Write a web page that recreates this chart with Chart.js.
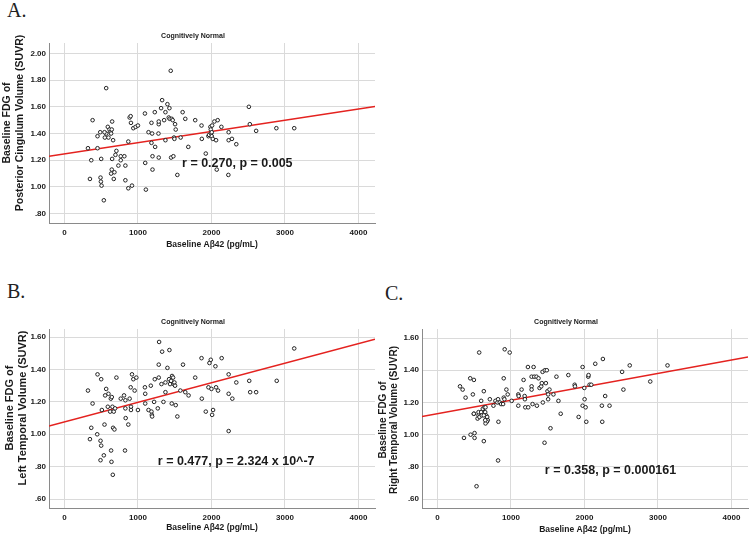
<!DOCTYPE html>
<html>
<head>
<meta charset="utf-8">
<script src="https://cdn.jsdelivr.net/npm/chart.js@4"></script>
<style>
    body { margin: 0; background: #fff; width: 753px; height: 536px; position: relative; overflow: hidden; }
    canvas { position: absolute; }
    .letter { position: absolute; font-family: "Liberation Serif", "Times New Roman", serif; font-size: 20px; line-height: 20px; color: #222; }
</style>
</head>
<body>
<div class="letter" style="left:7px;top:0px">A.</div>
<div class="letter" style="left:7px;top:281px">B.</div>
<div class="letter" style="left:385px;top:283px">C.</div>
<canvas id="chartA" width="380" height="255" style="left:0;top:0"></canvas>
<canvas id="chartB" width="380" height="256" style="left:0;top:280px"></canvas>
<canvas id="chartC" width="380" height="256" style="left:373px;top:280px"></canvas>
<script>
// Tick labels
const xTicks = [0, 1000, 2000, 3000, 4000];
const yTicksA = [0.8, 1.0, 1.2, 1.4, 1.6, 1.8, 2.0];
const yTicksBC = [0.6, 0.8, 1.0, 1.2, 1.4, 1.6];

// Panel A: Posterior Cingulum
const abetaA = [320, 347, 365, 383, 450, 450, 487, 500, 491, 496, 505, 536, 550, 568, 568, 590, 599, 613, 626, 635,
    644, 649, 635, 644, 649, 662, 671, 680, 694, 707, 734, 766, 766, 815, 829, 829, 869, 869, 887, 901,
    905, 919, 937, 968, 1000, 1095, 1099, 1108, 1144, 1184, 1184, 1193, 1198, 1198, 1229, 1234, 1279, 1283, 1283, 1283,
    1315, 1329, 1356, 1374, 1374, 1401, 1419, 1428, 1432, 1446, 1451, 1460, 1473, 1482, 1491, 1505, 1496, 1514, 1536, 1581,
    1608, 1644, 1685, 1779, 1865, 1869, 1923, 1959, 1968, 1986, 1991, 1995, 2004, 2004, 2009, 2018, 2040, 2063, 2072, 2085,
    2135, 2230, 2234, 2234, 2279, 2338, 2509, 2522, 2608, 2883, 3126, 545];
const fdgA = [1.29, 1.06, 1.20, 1.50, 1.38, 1.29, 1.41, 1.21, 1.07, 1.04, 1.01, 0.90, 1.37, 1.74, 1.40, 1.45, 1.37, 1.43, 1.41, 1.40,
    1.43, 1.49, 1.10, 1.13, 1.21, 1.35, 1.06, 1.11, 1.24, 1.27, 1.16, 1.23, 1.20, 1.23, 1.16, 1.05, 0.99, 1.34, 1.52, 1.53,
    1.48, 1.01, 1.44, 1.45, 1.46, 1.55, 1.18, 0.98, 1.41, 1.48, 1.33, 1.40, 1.23, 1.13, 1.56, 1.30, 1.40, 1.47, 1.49, 1.22,
    1.59, 1.65, 1.50, 1.56, 1.35, 1.62, 1.52, 1.59, 1.51, 1.87, 1.22, 1.51, 1.50, 1.23, 1.37, 1.47, 1.36, 1.43, 1.09, 1.37,
    1.56, 1.51, 1.30, 1.50, 1.46, 1.36, 1.25, 1.38, 1.39, 1.45, 1.43, 1.40, 1.41, 1.38, 1.46, 1.36, 1.49, 1.35, 1.13, 1.50,
    1.45, 1.09, 1.41, 1.35, 1.36, 1.32, 1.60, 1.47, 1.42, 1.44, 1.44, 1.41];
const fitA = [1.247, 0.000084];

// Panel B: Left Temporal
const abetaB = [320, 347, 365, 383, 450, 446, 491, 491, 500, 500, 509, 536, 545, 568, 554, 590, 599, 622, 631, 635,
    640, 644, 653, 658, 662, 671, 680, 689, 707, 766, 811, 829, 829, 833, 824, 869, 887, 901, 905, 919,
    905, 937, 955, 978, 1000, 1095, 1099, 1099, 1144, 1175, 1184, 1189, 1193, 1220, 1229, 1270, 1283, 1283, 1288, 1320,
    1329, 1347, 1374, 1374, 1401, 1423, 1428, 1437, 1451, 1460, 1464, 1478, 1487, 1496, 1505, 1514, 1536, 1577, 1613, 1644,
    1689, 1779, 1865, 1869, 1923, 1959, 1973, 1991, 2000, 2009, 2022, 2054, 2063, 2090, 2139, 2234, 2234, 2234, 2284, 2338,
    2514, 2527, 2608, 2888, 3126];
const fdgB = [1.27, 0.97, 1.04, 1.19, 1.37, 1.00, 0.96, 0.84, 0.93, 1.34, 1.15, 0.87, 1.06, 1.28, 1.24, 1.17, 1.25, 1.14, 1.22, 0.90,
    0.83, 1.23, 1.17, 0.75, 1.04, 1.14, 1.03, 1.16, 1.35, 1.22, 1.24, 1.21, 1.16, 1.10, 0.90, 1.06, 1.22, 1.29, 1.17, 1.37,
    1.15, 1.34, 1.27, 1.35, 1.15, 1.29, 1.25, 1.19, 1.15, 1.30, 1.14, 1.12, 1.11, 1.20, 1.34, 1.16, 1.35, 1.43, 1.57, 1.31,
    1.51, 1.20, 1.32, 1.26, 1.41, 1.34, 1.52, 1.31, 1.33, 1.19, 1.36, 1.35, 1.31, 1.32, 1.30, 1.18, 1.11, 1.27, 1.43, 1.26,
    1.24, 1.35, 1.47, 1.22, 1.14, 1.29, 1.44, 1.46, 1.28, 1.12, 1.15, 1.42, 1.29, 1.27, 1.47, 1.37, 1.25, 1.02, 1.22, 1.32,
    1.33, 1.26, 1.26, 1.33, 1.53];
const fitB = [1.077, 0.0001206];

// Panel C: Right Temporal
const abetaC = [307, 343, 361, 383, 446, 451, 482, 496, 496, 505, 505, 532, 546, 559, 568, 595, 631, 631, 713, 762,
    789, 816, 825, 830, 825, 848, 866, 893, 902, 902, 911, 915, 938, 956, 983, 1010, 1100, 1100, 1105, 1145,
    1172, 1186, 1190, 1195, 1231, 1235, 1281, 1281, 1281, 1294, 1308, 1317, 1348, 1353, 1375, 1389, 1412, 1420, 1430, 1434,
    1457, 1461, 1475, 1488, 1497, 1506, 1506, 1524, 1538, 1578, 1619, 1646, 1677, 1781, 1867, 1871, 1921, 1975, 1975, 1998,
    2002, 2016, 2025, 2052, 2056, 2070, 2093, 2147, 2237, 2242, 2251, 2282, 2341, 2512, 2530, 2616, 2895, 3130,
    495, 559, 595, 617, 640, 654, 650, 663, 677, 685, 672, 654, 572, 604, 631, 650];
const fdgC = [1.30, 1.28, 0.98, 1.23, 1.35, 1.00, 1.25, 1.34, 1.13, 1.01, 0.98, 0.68, 1.10, 1.12, 1.51, 1.21, 1.27, 0.96, 1.22, 1.18,
    1.21, 1.20, 1.22, 1.08, 0.84, 1.20, 1.19, 1.19, 1.23, 1.35, 1.22, 1.53, 1.28, 1.25, 1.51, 1.21, 1.25, 1.18, 1.24, 1.28,
    1.34, 1.24, 1.22, 1.17, 1.42, 1.17, 1.36, 1.30, 1.28, 1.19, 1.42, 1.36, 1.36, 1.18, 1.35, 1.29, 1.30, 1.32, 1.39, 1.20,
    0.95, 1.40, 1.32, 1.40, 1.27, 1.25, 1.22, 1.28, 1.04, 1.25, 1.36, 1.21, 1.13, 1.37, 1.31, 1.30, 1.11, 1.42, 1.18, 1.29,
    1.22, 1.17, 1.08, 1.36, 1.37, 1.31, 1.31, 1.44, 1.18, 1.08, 1.47, 1.24, 1.18, 1.39, 1.28, 1.43, 1.33, 1.43,
    1.13, 1.14, 1.14, 1.16, 1.17, 1.17, 1.14, 1.12, 1.11, 1.09, 1.08, 1.07, 1.11, 1.12, 1.12, 1.09];
const fitC = [1.131, 0.0000833];

const xMin = -210, xMax = 4225;
const FONT = "'Liberation Sans', Arial, sans-serif";

// draws subtitle, axis titles and the r/p note
const panelText = {
    id: "panelText",
    afterDraw(chart) {
        const o = chart.options.plugins.panelText;
        const ctx = chart.ctx;
        const area = chart.chartArea;
        ctx.save();
        ctx.fillStyle = "#1a1a1a";
        ctx.textBaseline = "middle";
        ctx.textAlign = "center";

        ctx.font = "bold 7px " + FONT;
        ctx.fillText("Cognitively Normal", (area.left + area.right) / 2 - 19, o.titleY);

        ctx.font = "bold 8.5px " + FONT;
        ctx.fillText("Baseline A\u03b242 (pg/mL)", (area.left + area.right) / 2, o.xTitleY);

        ctx.save();
        ctx.font = "bold " + o.yTitleSize + "px " + FONT;
        ctx.translate(0, o.yTitleCenter);
        ctx.rotate(-Math.PI / 2);
        ctx.fillText("Baseline FDG of", 0, o.yTitleX[0]);
        ctx.fillText(o.yTitle, 0, o.yTitleX[1]);
        ctx.restore();

        ctx.font = "bold 12.5px " + FONT;
        ctx.textAlign = "left";
        ctx.fillText(o.note, chart.scales.x.getPixelForValue(o.noteAt[0]), chart.scales.y.getPixelForValue(o.noteAt[1]));
        ctx.restore();
    }
};

function makeChart(id, xs, ys, fit, yTicks, yRange, top, text) {
    const points = xs.map((x, i) => ({ x: x, y: ys[i] }));
    const line = [xMin, xMax].map(x => ({ x: x, y: fit[0] + fit[1] * x }));
    return new Chart(document.getElementById(id), {
        type: "scatter",
        data: {
            datasets: [
                {
                    data: points,
                    pointRadius: 1.8,
                    pointBorderWidth: 1,
                    pointBorderColor: "#222",
                    pointBackgroundColor: "#fff",
                },
                {
                    type: "line",
                    data: line,
                    borderColor: "#e4221f",
                    borderWidth: 1.5,
                    pointRadius: 0,
                },
            ],
        },
        options: {
            responsive: false,
            animation: false,
            devicePixelRatio: 1,
            layout: { padding: { top: top, right: 3, left: 0, bottom: 0 } },
            plugins: {
                legend: { display: false },
                tooltip: { enabled: false },
                panelText: text,
            },
            scales: {
                x: {
                    type: "linear",
                    min: xMin,
                    max: xMax,
                    afterBuildTicks: s => { s.ticks = xTicks.map(v => ({ value: v })); },
                    afterFit: s => { s.height = text.xAxisH; },
                    grid: { color: "#dadada", drawTicks: false },
                    border: { color: "#8a8a8a", width: 1 },
                    ticks: {
                        padding: 5,
                        color: "#1a1a1a",
                        font: { family: FONT, size: 8, weight: "bold" },
                        maxRotation: 0,
                        callback: v => String(v),
                    },
                },
                y: {
                    type: "linear",
                    min: yRange[0],
                    max: yRange[1],
                    afterBuildTicks: s => { s.ticks = yTicks.map(v => ({ value: v })); },
                    afterFit: s => { s.width = 49; },
                    grid: { color: "#dadada", drawTicks: false },
                    border: { color: "#8a8a8a", width: 1 },
                    ticks: {
                        padding: 3,
                        color: "#1a1a1a",
                        font: { family: FONT, size: 8, weight: "bold" },
                        callback: v => v.toFixed(2).replace(/^0/, ""),
                    },
                },
            },
        },
        plugins: [panelText],
    });
}

makeChart("chartA", abetaA, fdgA, fitA, yTicksA, [0.73, 2.078], 43, {
    titleY: 36, xTitleY: 245, xAxisH: 32,
    yTitle: "Posterior Cingulum Volume (SUVR)", yTitleSize: 10.5, yTitleX: [7, 20], yTitleCenter: 123,
    note: "r = 0.270, p = 0.005", noteAt: [1600, 1.178],
});
makeChart("chartB", abetaB, fdgB, fitB, yTicksBC, [0.545, 1.65], 49, {
    titleY: 42, xTitleY: 248, xAxisH: 28,
    yTitle: "Left Temporal Volume (SUVR)", yTitleSize: 11, yTitleX: [10, 23], yTitleCenter: 128,
    note: "r = 0.477, p = 2.324 x 10^-7", noteAt: [1270, 0.831],
});
makeChart("chartC", abetaC, fdgC, fitC, yTicksBC, [0.545, 1.656], 49, {
    titleY: 42, xTitleY: 250, xAxisH: 28,
    yTitle: "Right Temporal Volume (SUVR)", yTitleSize: 10, yTitleX: [10, 21], yTitleCenter: 140,
    note: "r = 0.358, p = 0.000161", noteAt: [1461, 0.779],
});
</script>
</body>
</html>
